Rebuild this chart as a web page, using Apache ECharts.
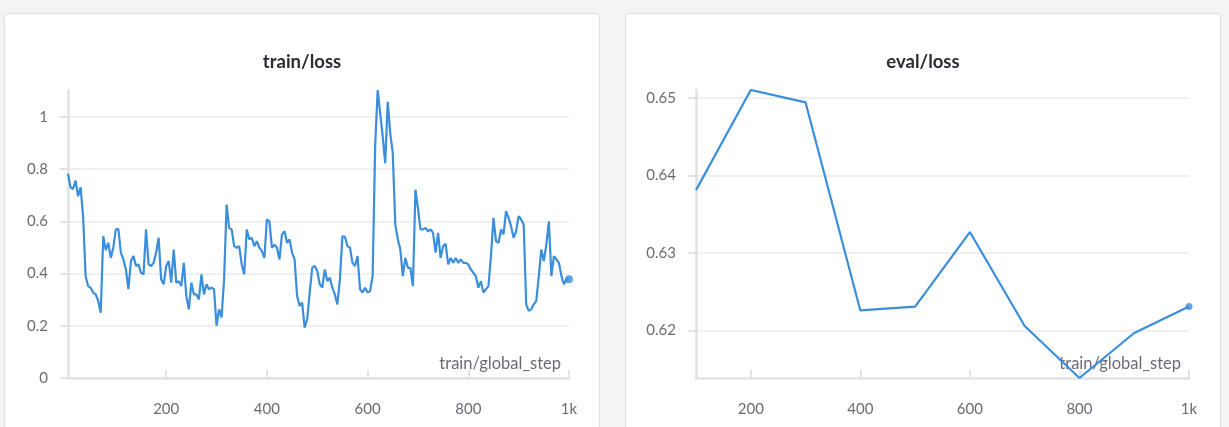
<!DOCTYPE html>
<html>
<head>
<meta charset="utf-8">
<script src="https://cdn.jsdelivr.net/npm/echarts@6/dist/echarts.min.js"></script>
<style>
  html, body { margin: 0; padding: 0; background: #f4f4f5; }
  body { width: 1229px; height: 427px; position: relative; overflow: hidden; }
  .card { position: absolute; top: 13px; width: 596px; height: 440px; background: #fff;
          border: 1px solid #dedfe2; border-radius: 4px; box-sizing: border-box; }
  #chart { position: absolute; left: 0; top: 0; width: 1229px; height: 427px; }
</style>
</head>
<body>
<div class="card" style="left:4px"></div>
<div class="card" style="left:625px"></div>
<div id="chart"></div>
<script>
// train/loss, logged every 5 steps starting at step 5
const LOG_EVERY = 5;
const trainLoss = [
  0.782, 0.730, 0.724, 0.756, 0.696, 0.730, 0.620, 0.390, 0.352, 0.346,
  0.327, 0.320, 0.295, 0.250, 0.543, 0.490, 0.518, 0.460, 0.500, 0.569,
  0.571, 0.480, 0.454, 0.416, 0.340, 0.448, 0.467, 0.429, 0.435, 0.403,
  0.397, 0.569, 0.435, 0.429, 0.441, 0.480, 0.537, 0.378, 0.359, 0.429,
  0.448, 0.365, 0.492, 0.365, 0.371, 0.352, 0.441, 0.314, 0.263, 0.365,
  0.320, 0.320, 0.301, 0.397, 0.320, 0.359, 0.340, 0.346, 0.340, 0.200,
  0.263, 0.232, 0.378, 0.664, 0.575, 0.569, 0.505, 0.499, 0.505, 0.435,
  0.397, 0.569, 0.531, 0.537, 0.505, 0.524, 0.499, 0.486, 0.460, 0.607,
  0.600, 0.499, 0.511, 0.499, 0.454, 0.550, 0.562, 0.518, 0.531, 0.480,
  0.454, 0.314, 0.276, 0.289, 0.193, 0.225, 0.327, 0.422, 0.429, 0.410,
  0.359, 0.346, 0.416, 0.371, 0.384, 0.346, 0.320, 0.282, 0.378, 0.543,
  0.541, 0.505, 0.499, 0.441, 0.429, 0.467, 0.340, 0.327, 0.346, 0.327,
  0.333, 0.391, 0.887, 1.103, 1.014, 0.925, 0.823, 1.058, 0.938, 0.861,
  0.588, 0.531, 0.492, 0.390, 0.460, 0.422, 0.422, 0.352, 0.721, 0.651,
  0.569, 0.569, 0.575, 0.562, 0.569, 0.556, 0.480, 0.556, 0.460, 0.505,
  0.514, 0.435, 0.460, 0.441, 0.460, 0.441, 0.454, 0.441, 0.441, 0.435,
  0.416, 0.403, 0.390, 0.346, 0.371, 0.327, 0.340, 0.352, 0.467, 0.613,
  0.524, 0.518, 0.569, 0.550, 0.639, 0.613, 0.581, 0.537, 0.562, 0.620,
  0.607, 0.588, 0.282, 0.257, 0.263, 0.282, 0.295, 0.390, 0.492, 0.448,
  0.511, 0.600, 0.390, 0.467, 0.454, 0.441, 0.390, 0.359, 0.378, 0.378
];

// eval/loss, evaluated every 100 steps
const evalSteps = [100, 200, 300, 400, 500, 600, 700, 800, 900, 1000];
const evalLoss  = [0.6381, 0.6510, 0.6494, 0.6226, 0.6231, 0.6327, 0.6206, 0.6139, 0.6197, 0.6231];

// tick labels
const stepTicks = [200, 400, 600, 800, 1000];
const trainLossTicks = [0, 0.2, 0.4, 0.6, 0.8, 1];
const evalLossTicks = [0.62, 0.63, 0.64, 0.65];

const trainPoints = trainLoss.map((v, i) => [(i + 1) * LOG_EVERY, v]);
const evalPoints = evalSteps.map((s, i) => [s, evalLoss[i]]);

const FONT = 'Lato, "Source Sans Pro", "Noto Sans", sans-serif';
const LINE = '#3a8edb';
const AXIS = '#e2e2e4';
const GRID = '#ebebed';
const LABEL = '#6b6b76';

function stepFormatter(v) {
  return v >= 1000 ? (v / 1000) + 'k' : String(v);
}

function xAxisCfg(gridIndex) {
  return {
    type: 'value', gridIndex, min: 'dataMin', max: 'dataMax',
    axisLine: { show: true, lineStyle: { color: AXIS, width: 2.5 } },
    axisTick: { show: true, inside: true, length: 8, customValues: stepTicks,
                lineStyle: { color: AXIS, width: 2 } },
    axisLabel: { customValues: stepTicks, formatter: stepFormatter, margin: 24,
                 color: LABEL, fontSize: 15, fontFamily: FONT },
    splitLine: { show: false },
    name: 'train/global_step', nameLocation: 'end', nameGap: -8,
    nameTextStyle: { color: LABEL, fontSize: 16.5, fontFamily: FONT,
                     align: 'right', verticalAlign: 'bottom', padding: [0, 0, 6, 0] }
  };
}

function yAxisCfg(gridIndex, ticks, min, max) {
  return {
    type: 'value', gridIndex, min, max,
    axisLine: { show: true, lineStyle: { color: AXIS, width: 2.5 } },
    axisTick: { show: true, length: 8, customValues: ticks, lineStyle: { color: AXIS, width: 2 } },
    axisLabel: { customValues: ticks, margin: 20, color: LABEL, fontSize: 15, fontFamily: FONT },
    splitLine: { show: true, lineStyle: { color: GRID, width: 1.5 } }
  };
}

const chart = echarts.init(document.getElementById('chart'), null, { renderer: 'canvas' });
chart.setOption({
  animation: false,
  backgroundColor: 'transparent',
  graphic: [
    { type: 'text', x: 302, y: 62, style: { text: 'train/loss', align: 'center', verticalAlign: 'middle',
      font: 'bold 18.5px ' + FONT, fill: '#2b2b33' } },
    { type: 'text', x: 923, y: 62, style: { text: 'eval/loss', align: 'center', verticalAlign: 'middle',
      font: 'bold 18.5px ' + FONT, fill: '#2b2b33' } }
  ],
  grid: [
    { left: 68, top: 90, width: 501, height: 288 },
    { left: 696, top: 90, width: 493, height: 288 }
  ],
  xAxis: [xAxisCfg(0), xAxisCfg(1)],
  yAxis: [
    yAxisCfg(0, trainLossTicks, 0, 'dataMax'),
    yAxisCfg(1, evalLossTicks, 'dataMin', 'dataMax')
  ],
  series: [
    { type: 'line', xAxisIndex: 0, yAxisIndex: 0, data: trainPoints, showSymbol: false,
      lineStyle: { color: LINE, width: 2.2 }, z: 3 },
    { type: 'scatter', xAxisIndex: 0, yAxisIndex: 0, data: trainPoints.slice(-1),
      symbolSize: 8, itemStyle: { color: LINE }, z: 4 },
    { type: 'line', xAxisIndex: 1, yAxisIndex: 1, data: evalPoints, showSymbol: false,
      lineStyle: { color: LINE, width: 2.2 }, z: 3 },
    { type: 'scatter', xAxisIndex: 1, yAxisIndex: 1, data: evalPoints.slice(-1),
      symbolSize: 7, itemStyle: { color: LINE }, z: 4 }
  ]
});
</script>
</body>
</html>
